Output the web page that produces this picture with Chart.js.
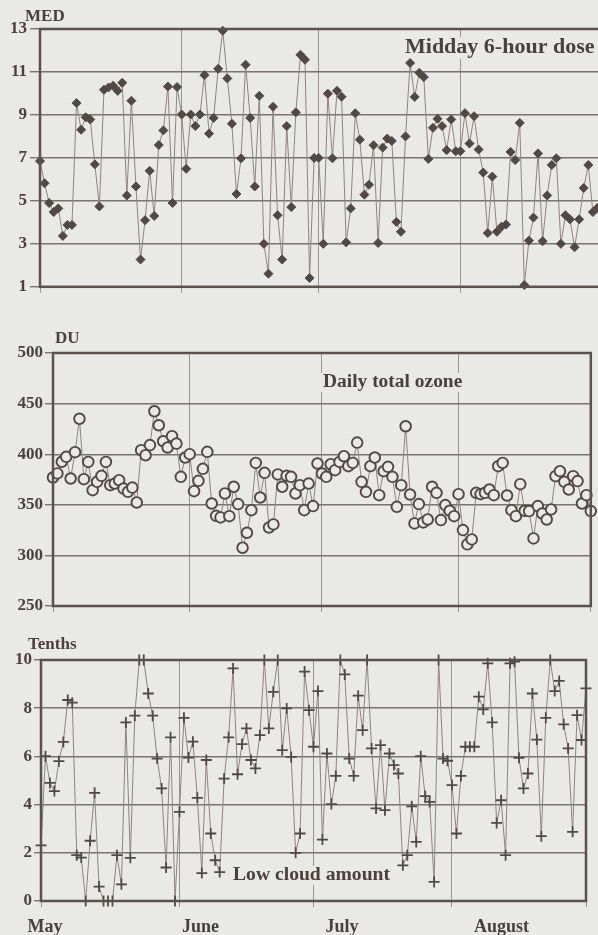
<!DOCTYPE html>
<html>
<head>
<meta charset="utf-8">
<script src="https://cdn.jsdelivr.net/npm/chart.js@4.4.1/dist/chart.umd.min.js"></script>
<style>
  html, body { margin: 0; padding: 0; background: #e9e9e7; overflow: hidden; }
  body { width: 598px; height: 935px; position: relative; }
  canvas { position: absolute; left: 0; }
</style>
</head>
<body>
<canvas id="med" width="620" height="300" style="top:0"></canvas>
<canvas id="ozone" width="598" height="300" style="top:320px"></canvas>
<canvas id="cloud" width="598" height="305" style="top:630px"></canvas>
<script>
// daily values, 1 May .. 31 August (index = day number from 1 May)
const medValues = [
  6.85, 5.82, 4.9, 4.48, 4.65, 3.37, 3.88, 3.88, 9.55, 8.31,
  8.89, 8.79, 6.7, 4.74, 10.17, 10.28, 10.36, 10.12, 10.5, 5.25,
  9.66, 5.67, 2.27, 4.1, 6.4, 4.3, 7.6, 8.28, 10.32, 4.9,
  10.3, 9.02, 6.49, 9.02, 8.48, 9.02, 10.85, 8.13, 8.86, 11.15,
  12.92, 10.7, 8.59, 5.32, 6.98, 11.34, 8.86, 5.67, 9.89, 3.0,
  1.61, 9.38, 4.33, 2.27, 8.48, 4.71, 9.12, 11.8, 11.57, 1.41,
  7.0, 7.0, 3.0, 9.99, 6.98, 10.12, 9.85, 3.07, 4.65, 9.08,
  7.85, 5.29, 5.75, 7.59, 3.04, 7.48, 7.9, 7.79, 4.02, 3.56,
  8.0, 11.42, 9.84, 10.96, 10.76, 6.95, 8.4, 8.82, 8.48, 7.36,
  8.79, 7.31, 7.31, 9.08, 7.67, 8.94, 7.39, 6.32, 3.5, 6.13,
  3.56, 3.8, 3.9, 7.28, 6.9, 8.63, 1.08, 3.15, 4.22, 7.21,
  3.12, 5.25, 6.67, 6.98, 3.0, 4.33, 4.14, 2.84, 4.14, 5.6,
  6.67, 4.48, 4.68
];
const ozoneValues = [
  377, 381, 392.5, 397.4, 376, 402, 435, 375.3, 392.4, 364.5,
  372.7, 378.6, 392.4, 369.4, 371, 374.3, 366, 362.8, 367, 352.3,
  404, 399, 409, 442.4, 428.6, 412.8, 406.6, 417.8, 410.5, 377.6,
  396.7, 400, 363.5, 373.7, 385.5, 402.3, 351.3, 339.1, 337.5, 361.2,
  338.8, 367.8, 350.7, 307.6, 322.4, 344.7, 391.4, 357.2, 381.6, 327.6,
  330.6, 380, 367.8, 378.6, 377.6, 361.2, 369.4, 344.7, 371, 348.7,
  390.8, 380.9, 377.6, 390.1, 384.2, 392.4, 398, 388.2, 391.4, 411.5,
  372.7, 362.8, 388.2, 396.7, 359.5, 383.2, 387.5, 377.6, 348, 369.4,
  427.6, 360.2, 331.6, 350.7, 332.6, 335.5, 367.8, 361.8, 334.9, 349.7,
  344.1, 338.8, 360.5, 325, 310.9, 315.8, 361.8, 360.5, 361.8, 365.1,
  359.5, 388.2, 391.4, 359.2, 344.7, 338.8, 370.4, 344.1, 343.8, 316.8,
  348.7, 341.4, 335.5, 345.4, 378.3, 383.2, 372.7, 365.1, 378.3, 373.4,
  351.3, 359.5, 343.8
];
const cloudValues = [
  2.31, 6.01, 4.9, 4.56, 5.8, 6.6, 8.34, 8.23, 1.9, 1.8,
  0, 2.5, 4.49, 0.6, 0, 0, 0, 1.9, 0.69, 7.41,
  1.79, 7.69, 10, 10, 8.61, 7.69, 5.91, 4.67, 1.39, 6.79,
  0, 3.7, 7.6, 5.95, 6.61, 4.28, 1.16, 5.85, 2.8, 1.69,
  1.2, 5.08, 6.79, 9.65, 5.26, 6.51, 7.16, 5.85, 5.5, 6.88,
  10, 7.16, 8.68, 10, 6.26, 7.99, 5.98, 2.0, 2.8, 9.52,
  7.92, 6.4, 8.71, 2.55, 6.12, 4.02, 5.19, 10, 9.4, 5.91,
  5.19, 8.52, 7.09, 10, 6.33, 3.84, 6.47, 3.77, 6.12, 5.64,
  5.29, 1.48, 1.9, 3.93, 2.45, 6.01, 4.35, 4.11, 0.79, 10,
  5.91, 5.82, 4.81, 2.8, 5.19, 6.4, 6.4, 6.4, 8.48, 7.95,
  9.86, 7.41, 3.24, 4.18, 1.9, 9.86, 9.93, 5.94, 4.67, 5.29,
  8.61, 6.7, 2.69, 7.6, 10, 8.71, 9.13, 7.33, 6.33, 2.87,
  7.71, 6.68, 8.82
];
const monthNames = ['May', 'June', 'July', 'August'];
const monthStarts = [0, 31, 61, 92, 122];   // day numbers of month boundaries
const monthLabelDays = [0.9, 35.7, 67.4, 103.1];

const SERIF = '"Liberation Serif", "Times New Roman", serif';
const PAPER = '#e9e9e7';
const INK = '#4a413e';
const MARK = '#524845';
const LINE = '#8c8481';

const toPoints = vals => vals.map((v, i) => ({ x: i, y: v }));

// frame, unit label and panel title
const panelDeco = {
  id: 'panelDeco',
  beforeDatasetsDraw(chart, args, o) {
    const ctx = chart.ctx;
    ctx.save();
    ctx.font = `bold ${o.titleSize}px ${SERIF}`;
    const w = ctx.measureText(o.title).width * o.stretch;
    ctx.fillStyle = PAPER;
    ctx.fillRect(o.titleX - 3, o.titleY - o.titleSize * 0.78, w + 6, o.titleSize * 1.05);
    ctx.translate(o.titleX, o.titleY);
    ctx.scale(o.stretch, 1);
    ctx.fillStyle = INK;
    ctx.textBaseline = 'alphabetic';
    ctx.fillText(o.title, 0, 0);
    ctx.restore();
  },
  afterDatasetsDraw(chart, args, o) {
    const { ctx, chartArea: a } = chart;
    ctx.save();
    ctx.strokeStyle = '#5b524e';
    ctx.lineWidth = 2.5;
    ctx.strokeRect(a.left, a.top, a.right - a.left, a.bottom - a.top);
    ctx.font = `bold 17px ${SERIF}`;
    ctx.fillStyle = INK;
    ctx.textBaseline = 'alphabetic';
    ctx.fillText(o.unit, o.unitX, o.unitY);
    ctx.restore();
  }
};

function yScale(min, max, step, width, tickLen, pad) {
  return {
    min, max,
    ticks: { stepSize: step, padding: pad, color: INK, font: { family: SERIF, weight: 'bold', size: 17 } },
    grid: { color: '#7a7370', lineWidth: 1.4, tickLength: tickLen },
    border: { display: false },
    afterFit: s => { s.width = width; }
  };
}

function xScale(max, ticksAt, height) {
  return {
    type: 'linear', min: 0, max,
    afterBuildTicks: s => { s.ticks = ticksAt.map(v => ({ value: v })); },
    ticks: { display: false },
    grid: { color: '#9a9390', lineWidth: 1, tickLength: 6 },
    border: { display: false },
    afterFit: s => { s.height = height; }
  };
}

function makeChart(id, dataset, scales, padding, deco) {
  return new Chart(document.getElementById(id), {
    type: 'line',
    data: { datasets: [Object.assign({ borderColor: LINE, borderWidth: 1, tension: 0, clip: false }, dataset)] },
    options: {
      responsive: false,
      animation: false,
      events: [],
      layout: { padding },
      scales,
      plugins: { legend: { display: false }, tooltip: { enabled: false }, panelDeco: deco }
    },
    plugins: [panelDeco]
  });
}

makeChart('med', {
  data: toPoints(medValues),
  pointStyle: 'rectRot', pointRadius: 4.5, pointBorderWidth: 1,
  pointBackgroundColor: MARK, pointBorderColor: MARK
}, {
  x: xScale(123, monthStarts.slice(0, 4), 10),
  y: yScale(1, 13, 2, 40, 10, 3)
}, { top: 29, right: 18, left: 0, bottom: 0 }, {
  unit: 'MED', unitX: 25, unitY: 21,
  title: 'Midday 6-hour dose', titleX: 405, titleY: 53, titleSize: 20, stretch: 1.1
});

makeChart('ozone', {
  data: toPoints(ozoneValues),
  pointStyle: 'circle', pointRadius: 5.3, pointBorderWidth: 1.9,
  pointBackgroundColor: PAPER, pointBorderColor: MARK
}, {
  x: xScale(122, monthStarts, 14),
  y: yScale(250, 500, 50, 53, 8, 2)
}, { top: 33, right: 6, left: 0, bottom: 0 }, {
  unit: 'DU', unitX: 55, unitY: 23,
  title: 'Daily total ozone', titleX: 323, titleY: 67, titleSize: 18, stretch: 1.08
});

makeChart('cloud', {
  data: toPoints(cloudValues),
  pointStyle: 'cross', pointRadius: 5.5, pointBorderWidth: 1.8,
  pointBorderColor: MARK
}, {
  x: xScale(122, monthStarts, 8),
  xl: {
    type: 'linear', min: 0, max: 122, position: 'bottom', weight: 1,
    afterBuildTicks: s => { s.ticks = monthLabelDays.map(v => ({ value: v })); },
    ticks: {
      autoSkip: false, maxRotation: 0, padding: 0, color: INK,
      font: { family: SERIF, weight: 'bold', size: 18 },
      callback: (v, i) => monthNames[i]
    },
    grid: { display: false },
    border: { display: false },
    afterFit: s => { s.height = 26; }
  },
  y: yScale(0, 10, 2, 41, 7, 2)
}, { top: 30, right: 12, left: 0, bottom: 0 }, {
  unit: 'Tenths', unitX: 28, unitY: 19,
  title: 'Low cloud amount', titleX: 233, titleY: 250, titleSize: 18, stretch: 1.09
});
</script>
</body>
</html>
